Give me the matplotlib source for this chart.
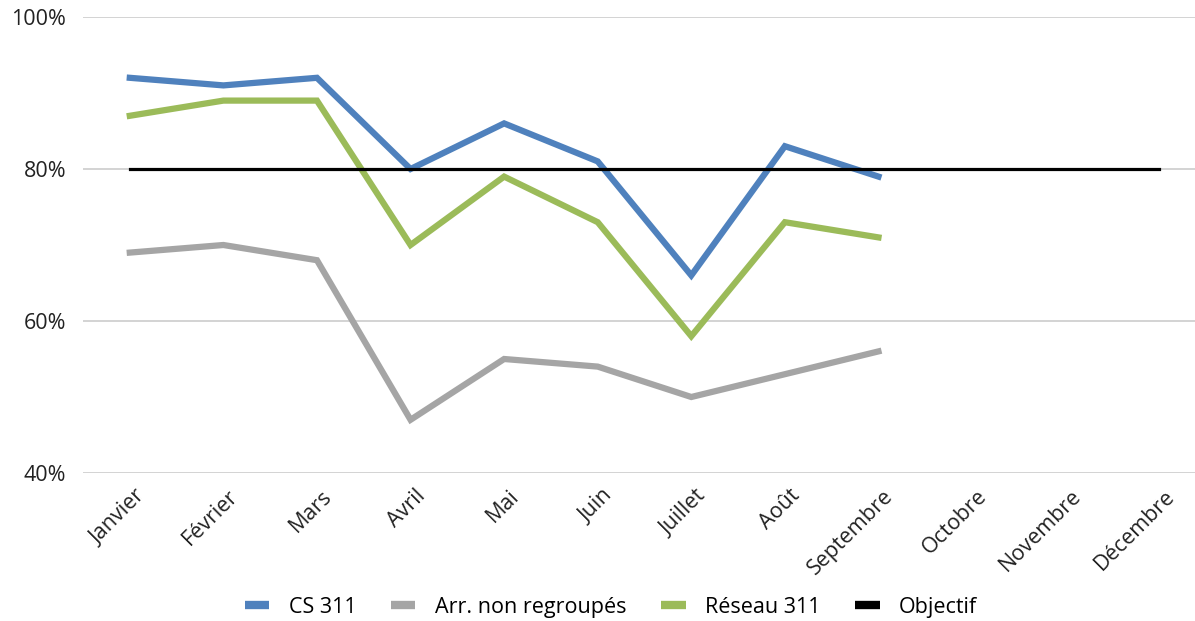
import matplotlib
matplotlib.use("Agg")
import matplotlib.pyplot as plt
import matplotlib.transforms as mtransforms
from matplotlib.ticker import FuncFormatter

plt.rcParams['font.family'] = ['Open Sans', 'DejaVu Sans']

mois = ['Janvier', 'Février', 'Mars', 'Avril', 'Mai', 'Juin', 'Juillet', 'Août',
        'Septembre', 'Octobre', 'Novembre', 'Décembre']
cs311 = [92, 91, 92, 80, 86, 81, 66, 83, 79]
arr_non_regroupes = [69, 70, 68, 47, 55, 54, 50, 53, 56]
reseau311 = [87, 89, 89, 70, 79, 73, 58, 73, 71]
objectif = [80] * 12

fig = plt.figure(figsize=(11.95, 6.21), dpi=100)
ax = fig.add_axes([83 / 1195, 1 - 473 / 621, 1123 / 1195, (473 - 17) / 621])

x = list(range(len(mois)))
ax.plot(x[:len(cs311)], cs311, color='#4F81BD', lw=4.5, label='CS 311', solid_joinstyle='miter')
ax.plot(x[:len(arr_non_regroupes)], arr_non_regroupes, color='#A5A5A5', lw=4.5,
        label='Arr. non regroupés', solid_joinstyle='miter')
ax.plot(x[:len(reseau311)], reseau311, color='#9BBB59', lw=4.5, label='Réseau 311',
        solid_joinstyle='miter')
ax.plot(x, objectif, color='black', lw=2.3, label='Objectif')

ax.set_xlim(-0.5, 11.5)
ax.set_ylim(40, 100)
ax.set_yticks([40, 60, 80, 100])
ax.yaxis.set_major_formatter(FuncFormatter(lambda v, p: f'{v:.0f}%'))
ax.grid(axis='y', color='#D0D0D0', lw=1.3)
ax.set_axisbelow(True)
for s in ax.spines.values():
    s.set_visible(False)
ax.tick_params(axis='y', length=0, labelsize=15.5, colors='#222222', pad=12)
ax.tick_params(axis='x', length=0, labelsize=15.5, colors='#222222', pad=0)
ax.set_xticks(x)
ax.set_xticklabels(mois, rotation=45, ha='right', va='center', rotation_mode='anchor')
# decalage des etiquettes (en pixels)
decal = mtransforms.ScaledTranslation(12 / 100, -20 / 100, fig.dpi_scale_trans)
for lab in ax.get_xticklabels():
    lab.set_transform(lab.get_transform() + decal)

leg = ax.legend(loc='center', bbox_to_anchor=(0.470, -0.294),
                ncol=4, frameon=False, fontsize=15.5, handlelength=1.15, columnspacing=1.6,
                handletextpad=0.9)
for h in leg.get_lines():
    h.set_linewidth(6)
    h.set_solid_capstyle('butt')

fig.savefig('out.png', dpi=100)
